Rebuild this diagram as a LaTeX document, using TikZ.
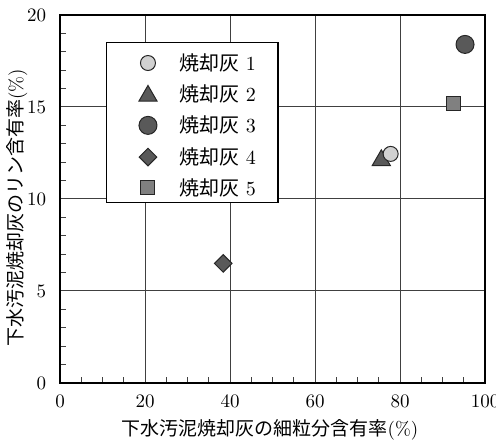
\documentclass[tikz,border=0pt]{standalone}
\usepackage{fontspec}
\newfontfamily\jp{Noto Sans CJK JP}
\usetikzlibrary{shapes.geometric}
\begin{document}
\begin{tikzpicture}[x=2.125pt,y=9.2pt,
    mk/.style={draw=black!85,inner sep=0pt,line width=0.5pt},
    ash1/.style={mk,circle,fill=black!18,minimum size=7.5pt},
    ash2/.style={mk,regular polygon,regular polygon sides=3,fill=black!65,minimum size=10.5pt},
    ash3/.style={mk,circle,fill=black!65,minimum size=9pt},
    ash4/.style={mk,diamond,fill=black!65,minimum size=9pt},
    ash5/.style={mk,rectangle,fill=black!50,minimum size=7pt},
    gridline/.style={black!75,line width=0.5pt},
    lab/.style={font=\fontsize{9.5}{11}\selectfont},
    leg/.style={font=\fontsize{10}{12}\selectfont,anchor=west}]
  \useasboundingbox (-14.12,-3.152) rectangle (102.59,20.815);
  % grid and ticks
  \foreach \gx in {20,40,60,80} \draw[gridline] (\gx,0) -- (\gx,20);
  \foreach \gy in {5,10,15} \draw[gridline] (0,\gy) -- (100,\gy);
  \foreach \tx in {5,10,...,95} \draw[gridline] (\tx,0) -- (\tx,0.3);
  \foreach \ty in {1,...,19} \draw[gridline] (0,\ty) -- (1.4,\ty);
  \draw[line width=1pt] (0,0) rectangle (100,20);
  \foreach \tx in {0,20,...,100} \node[lab,anchor=north] (xt\tx) at (\tx,-0.25) {\tx};
  \foreach \ty in {0,5,...,20} \node[lab,anchor=east] (yt\ty) at (-1.6,\ty) {\ty};
  % legend
  \node[draw,fill=white,minimum width=85.6pt,minimum height=80pt,inner sep=0pt,line width=0.6pt] (legend) at (31.15,14.15) {};
  \node[ash1] (k1) at (20.7,17.39) {};
  \node[ash2] (k2) at (20.7,15.6) {};
  \node[ash3] (k3) at (20.7,14.0) {};
  \node[ash4] (k4) at (20.7,12.28) {};
  \node[ash5] (k5) at (20.7,10.6) {};
  \node[leg] (t1) at (26.4,17.39) {{\jp 焼却灰} 1};
  \node[leg] (t2) at (26.4,15.7) {{\jp 焼却灰} 2};
  \node[leg] (t3) at (26.4,14.0) {{\jp 焼却灰} 3};
  \node[leg] (t4) at (26.4,12.28) {{\jp 焼却灰} 4};
  \node[leg] (t5) at (26.4,10.6) {{\jp 焼却灰} 5};
  % data
  \node[ash2] (p2) at (75.6,12.1) {};
  \node[ash1] (p1) at (77.8,12.45) {};
  \node[ash3] (p3) at (95.3,18.4) {};
  \node[ash4] (p4) at (38.4,6.5) {};
  \node[ash5] (p5) at (92.5,15.2) {};
  % axis titles
  \node[lab] (xlab) at (49.4,-2.55) {{\jp 下水汚泥焼却灰の細粒分含有率}(\%)};
  \node[lab,rotate=90] (ylab) at (-10.1,9.5) {{\jp 下水汚泥焼却灰のリン含有率}(\%)};
\end{tikzpicture}
\end{document}
